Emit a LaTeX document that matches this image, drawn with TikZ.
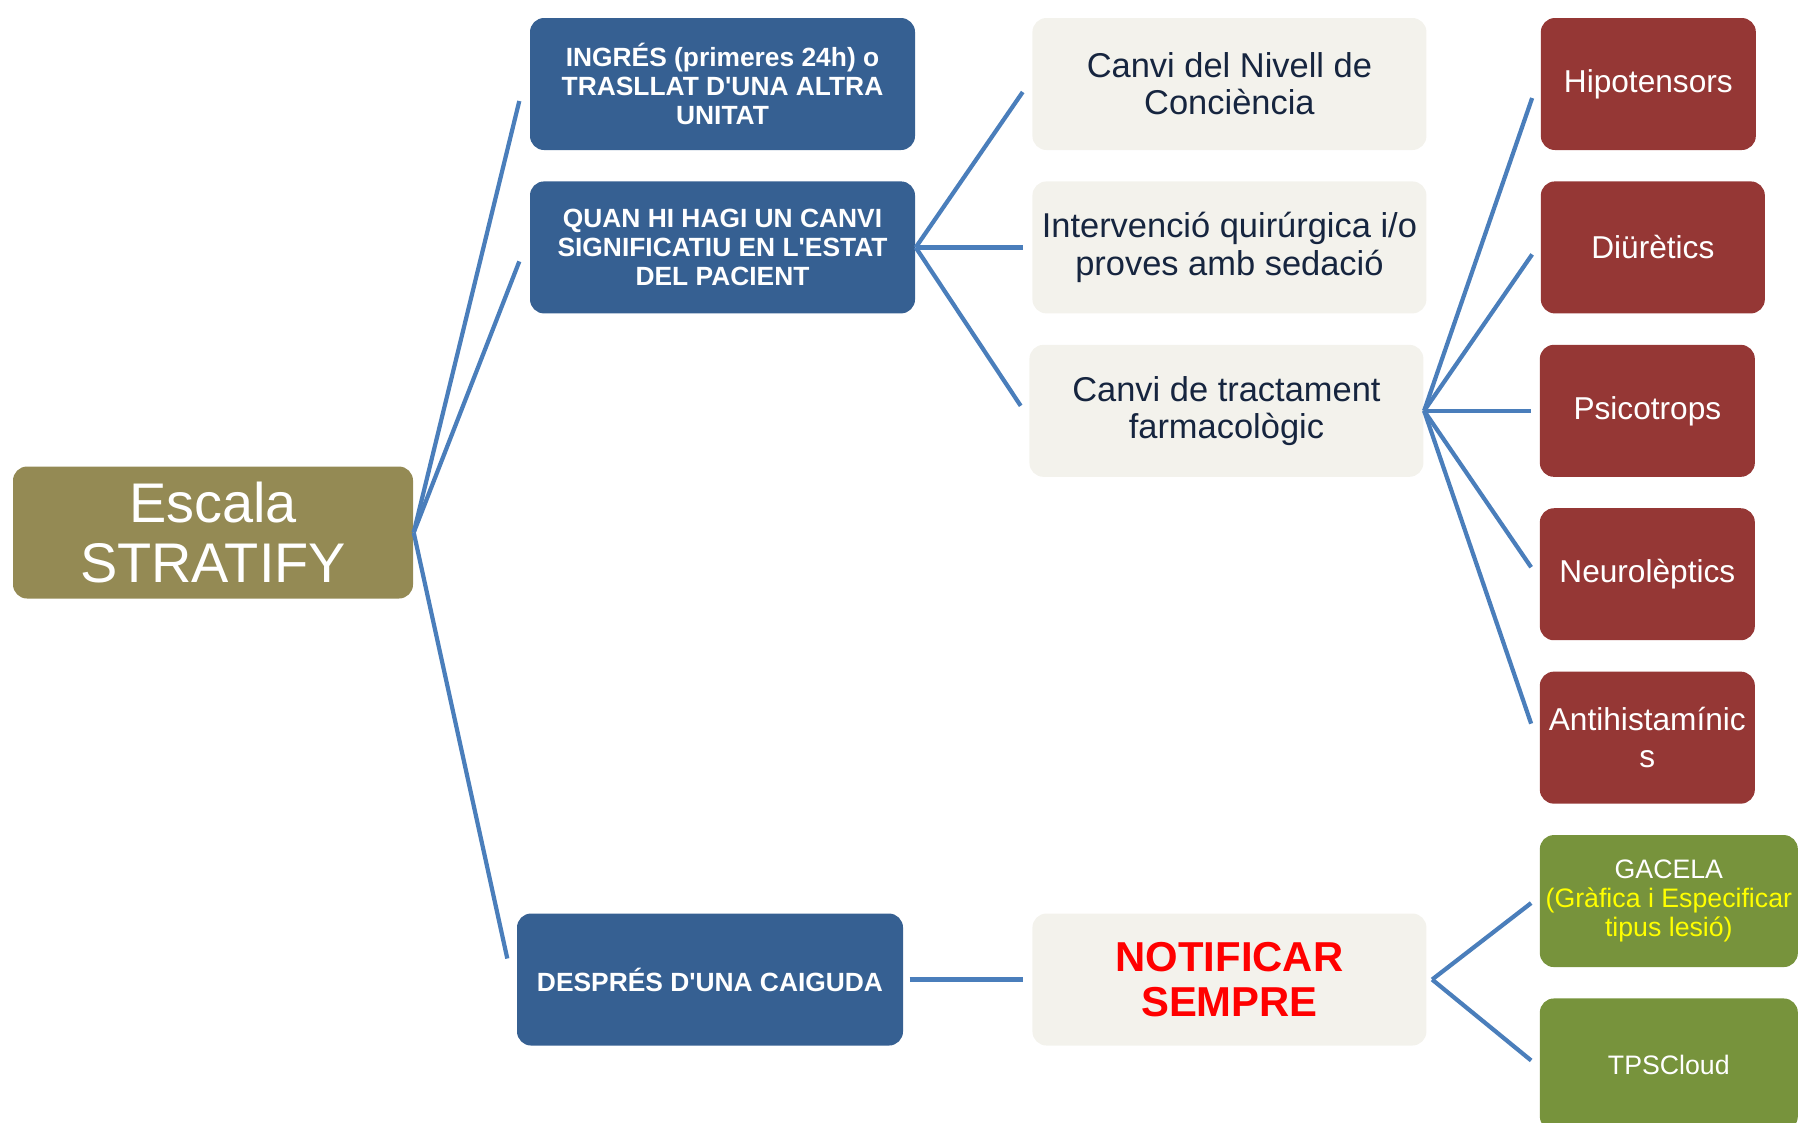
\documentclass[tikz,border=0pt]{standalone}
\usepackage{fontspec}
\setmainfont{Liberation Sans}
\usetikzlibrary{positioning}
\definecolor{blaufosc}{HTML}{366092}
\definecolor{blauclar}{HTML}{4A7EBB}
\definecolor{oliva}{HTML}{948A54}
\definecolor{crema}{HTML}{F3F2EC}
\definecolor{textfosc}{HTML}{16253F}
\definecolor{granat}{HTML}{953735}
\definecolor{verdos}{HTML}{77933C}
\definecolor{vermell}{HTML}{FF0000}
\definecolor{groc}{HTML}{FFFF00}
\begin{document}
\begin{tikzpicture}[node distance=0.30cm and 1.16cm,
    caixa/.style={rectangle, rounded corners=4pt, align=center, minimum height=1.32cm, inner sep=1pt},
    escala/.style={caixa, fill=oliva, text=white, minimum width=4cm, font=\fontsize{15.9}{17.3}\selectfont},
    criteri/.style={caixa, fill=blaufosc, text=white, minimum width=3.85cm, font=\fontsize{7.5}{8.3}\selectfont\bfseries},
    accio/.style={caixa, fill=crema, text=textfosc, minimum width=3.94cm, font=\fontsize{9.8}{10.6}\selectfont},
    farmac/.style={caixa, fill=granat, text=white, minimum width=2.15cm, font=\fontsize{9}{10.5}\selectfont},
    registre/.style={caixa, fill=verdos, text=white, minimum width=2.58cm, font=\fontsize{7.6}{8.3}\selectfont},
    branca/.style={draw=blauclar, line width=1.2pt}]
    \useasboundingbox (0,0) rectangle (18.11,-11.22);
    \node[criteri] (ingres) at (7.225,-0.84) {INGRÉS (primeres 24h) o\\TRASLLAT D\textquotesingle UNA ALTRA\\UNITAT};
    \node[criteri] (quan) [below = of ingres] {QUAN HI HAGI UN CANVI\\SIGNIFICATIU EN L\textquotesingle ESTAT\\DEL PACIENT};
    \node[escala] (escala) at (2.13,-5.325) {Escala\\STRATIFY};
    \node[criteri, minimum width=3.86cm] (despres) at (7.10,-9.795) {DESPRÉS D\textquotesingle UNA CAIGUDA};
    \node[accio] (nivell) [right = of ingres] {Canvi del Nivell de\\Conciència};
    \node[accio] (interv) [right = of quan] {Intervenció quirúrgica i/o\\proves amb sedació};
    \node[accio] (tract) [below = of interv, xshift=-0.03cm] {Canvi de tractament\\farmacològic};
    \node[accio, text=vermell, font=\fontsize{11.9}{12.8}\selectfont\bfseries] (notif) [right = 1.28cm of despres] {NOTIFICAR\\SEMPRE};
    \node[farmac] (hipo) [right = 1.13cm of nivell] {Hipotensors};
    \node[farmac, minimum width=2.24cm] (diur) [right = 1.13cm of interv] {Diürètics};
    \node[farmac] (psico) [right = 1.15cm of tract] {Psicotrops};
    \node[farmac] (neuro) [below = of psico] {Neurolèptics};
    \node[farmac] (anti) [below = of neuro] {Antihistamínic\\s};
    \node[registre] (gacela) [below = of anti.south west, anchor=north west] {GACELA\\\textcolor{groc}{(Gràfica i Especificar}\\\textcolor{groc}{tipus lesió)}};
    \node[registre] (tps) [below = of gacela] {TPSCloud};
    % branques
    \path[branca] (escala.east) edge ([xshift=-0.1cm, yshift=-0.17cm]ingres.west)
        edge ([xshift=-0.1cm, yshift=-0.14cm]quan.west)
        edge ([xshift=-0.09cm, yshift=0.21cm]despres.west);
    \path[branca] (quan.east) edge ([xshift=-0.09cm, yshift=-0.08cm]nivell.west)
        edge ([xshift=-0.09cm]interv.west)
        edge ([xshift=-0.08cm, yshift=0.05cm]tract.west);
    \path[branca] (tract.east) edge ([xshift=-0.08cm, yshift=-0.14cm]hipo.west)
        edge ([xshift=-0.08cm, yshift=-0.07cm]diur.west)
        edge ([xshift=-0.08cm]psico.west)
        edge ([xshift=-0.08cm, yshift=0.07cm]neuro.west)
        edge ([xshift=-0.08cm, yshift=0.14cm]anti.west);
    \path[branca] ([xshift=0.06cm]despres.east) edge ([xshift=-0.09cm]notif.west);
    \path[branca] ([xshift=0.05cm]notif.east) edge ([xshift=-0.08cm, yshift=-0.02cm]gacela.west)
        edge ([xshift=-0.08cm, yshift=0.04cm]tps.west);
\end{tikzpicture}
\end{document}
